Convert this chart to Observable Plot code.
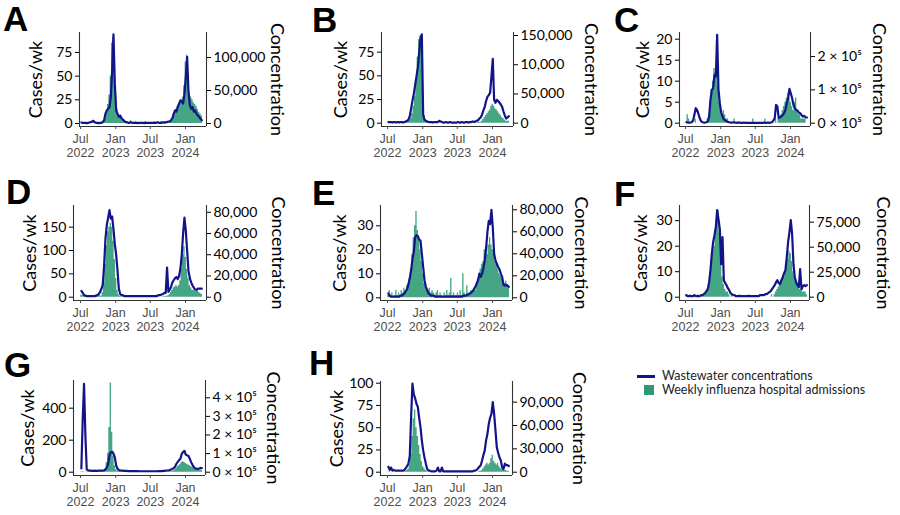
<!DOCTYPE html>
<html><head><meta charset="utf-8">
<script src="https://cdn.jsdelivr.net/npm/d3@7"></script>
<script src="https://cdn.jsdelivr.net/npm/@observablehq/plot@0.6"></script>
<style>
body{margin:0;background:#fff;}
#fig{position:relative;width:900px;height:515px;overflow:hidden;background:#fff;}
#fig svg{position:absolute;}
.letter{position:absolute;font-family:"Liberation Sans",Arial,sans-serif;font-weight:bold;font-size:35px;line-height:34px;color:#000;}
.lgtext{position:absolute;font-family:Lato,sans-serif;font-size:12.5px;line-height:14px;color:#222;white-space:nowrap;}
.sw{position:absolute;}
</style></head>
<body><div id="fig"></div>
<script>
// ---- data: weekly values starting week of 2022-07-02 (91 weeks) ----
const firstWeek = "2022-07-02";
const xTickDates = ["2022-07-01","2023-01-01","2023-07-01","2024-01-01"];
const xTickLabels = ["Jul\n2022","Jan\n2023","Jul\n2023","Jan\n2024"];

// Weekly influenza hospital admissions (cases/wk)
const casesA = [0,1,0,0,1,0,0,1,0,1,2,0,1,0,0,1,2, 3,8,12,20,30,50,85,91,60,30,15,8,6,5,4,3,2, 2,1,1,3,1,0,1,2,0,1,1,0,1,0,2,1,0,1,1,0,1,2,0,1,1,0,2,1,1,2,1,2, 2,3,5,8,12,15,18,20,22,25,28,40,65,72,45,30,28,25,22,20,18,15,12,10,8];
const casesB = [0,1,0,0,1,0,0,0,1,0,0,1,0,1,1,2,3, 5,10,18,28,45,70,88,92,80,35,8,3,2, 1,1,0,1,0,0,1,0,0,0,0,1,0,0,0,0,0,1,0,0,0,0,0,0,1,0,0,0,0,0,0,1,0,0,0,1,0,1,1,1, 2,4,6,8,10,12,14,18,20,18,15,14,12,10,8,6,5,3,2,2,2];
const casesC = [0,2,1,0,0,0,0,1,0,0,0,0,0,0,0,0,1, 2,5,8,10,13,12,21,9,5,3,2,3,2,1,1, 0,0,0,0,1,0,0,0,0,0,0,0,0,0,0,0,0,0,1,0,0,0,0,0,0,0,0,1,0,0,0,0,0,0,0,1,0,1, 1,2,3,4,5,6,7,6,5,4,3,5,6,3,2,2,1,1,1,1,0];
const casesD = [4,3,3,3,2,3,2,2,2,3,2,3,2,3,3, 2,10,30,70,110,140,150,158,150,120,80,40,15,5,2, 1,1,0,1,0,0,1,0,0,0,0,0,1,0,0,0,0,0,0,1,0,0,0,0,0,0,0,1,0,0,0,1,1,2,2,3, 5,10,15,20,22,25,22,25,35,60,90,108,85,60,40,25,20,15,15,12,12,15,10,8,6];
const casesE = [1,3,1,2,0,1,3,1,2,1,3,2,4,3,5,6,8,12,18,25,30,36,28,25,20,15,10,6,5,4,3, 4,2,3,2,1,2,3,1,2,1,0,2,1,3,1,2,8,1,2,1,1,2,1,3,1,10,2,1,5,2,1,3,2,4,3, 5,8,10,12,14,15,20,21,18,22,25,22,20,18,15,14,12,10,9,8,7,6,7,5,4];
const casesF = [1,0,0,1,0,0,1,0,0,1,0,0,1,1,1,2, 3,6,10,15,18,20,25,30,34,25,15,8,5,3,2,2,1, 0,1,0,0,0,0,0,1,0,0,0,0,0,0,1,0,0,0,0,0,0,0,1,0,0,0,0,0,0,0,0,1,0, 1,2,3,4,5,6,7,8,10,12,15,18,17,14,10,8,6,5,4,3,3,2,2,2,1];
const casesG = [2,3,2,1,2,1,1,2,1,1,2,1,2,2,3,3,5,10, 20,60,120,280,557,250,100,40,15,8,5,4,3, 2,2,1,2,1,1,1,2,1,1,1,1,1,1,1,1,1,1,1,1,1,1,1,1,1,1,1,1,1,1,1,1,1,2,2,3,4, 5,10,15,25,35,40,50,60,65,60,55,50,45,40,35,30,25,20,18,15,15,12,10];
const casesH = [0,1,0,0,0,0,0,0,0,0,0,0,1,1,2, 3,8,20,40,60,70,50,40,30,20,12,6,4,2,1, 0,0,1,0,0,0,0,0,0,0,0,0,0,0,0,0,0,0,0,0,0,0,0,0,0,0,0,0,0,0,0,0,0,0,0,0,0,0,1,1, 2,4,6,8,10,8,10,15,19,12,10,8,10,6,4,3,3,2,2,1,1];

// Wastewater concentrations (thousands)
const concA = [1.5,1,1,1,0.5,1,1.5,2,3,4,2,1,1,0.5,1,1,2, 5,15,20,22,25,40,80,135,60,20,15,10,12,8,6,4,2, 2,1,1,2,1,1,1,1,0.5,1,1,1,1,0.5,1,1,1,1,1,1,1,1,1,2,1,1,1,2,1,2,2,3, 3,5,8,15,20,18,25,30,35,33,30,45,70,101,50,28,22,25,18,20,15,12,10,7,5];
const concB = [2,2,2,1,2,2,1,2,1,2,2,1,2,3,4, 6,12,25,38,50,65,80,95,120,145,152,15,6,4,3,2, 2,2,1,2,2,2,2,4,3,2,1,1,2,1,1,2,1,1,1,1,1,2,1,1,2,1,1,2,2,1,2,2,3,2,3,4, 5,8,10,15,22,28,38,45,48,52,80,110,40,35,40,38,35,32,28,20,13,8,10,12];
const concC = [3,2,2,2,3,8, 25,45,40,28,15,6,3,2,2,3,5,20,70,100,105,145,140,265,100,60,33,20,12,8,6,4,3,2, 2,3,2,2,1,2,2,1,1,2,1,1,1,1,1,1,1,1,1,1,1,1,1,1,2,1,1,2,1,2,3, 8,15,55,50,15,18,20,25,30,40,60,75,103,90,75,55,45,40,38,32,30,25,20,22,18,17];
const concD = [6,4,2,1.5,1,1,1,1,1,1,1,1.5,2,3, 5,8,12,30,55,68,75,82,74,76,64,50,40,25,8,3,2, 2,1,1,1,1,1,1,1,1,1,1,1,1,1,1,1,1,1,1,1,1,1,1,1,1,1,1.5,2,2, 2.5,3,4,4,28,5,7,10,14,16,18,19,17,20,27,40,60,75,63,44,25,18,14,11,9,7,7,8,8,8,8];
const concE = [4,2,1,1,1,1,1,1,1,2,2,3, 4,6,8,12,18,25,35,42,55,57,56,53,52,40,28,16,10,7,4, 3,2,2,2,1,1,1,1,1,1,1,1,1,1,1,1,1,1,1,1,1,1,1,1,1,2,2,2,3, 3,4,5,6,8,10,13,16,22,19,22,27,34,45,60,70,67,80,64,40,34,31,28,26,22,19,12,11,12,11,10];
const concF = [2,1,1,1,1,1,2,1,1,1,1,2,2,3,4, 6,8,15,27,43,55,62,70,87,78,68,33,60,17,14,12,9,7,4,3, 2,2,1,1,1,1,1,1,1,1,1,1,1,1,1,1,1,1,1,1,2,2,2,2,3, 3,4,5,6,8,10,12,15,17,14,13,17,20,24,27,40,55,65,77,63,33,20,15,12,10,28,8,11,12,11,12];
const concG = [20,280,475,200,15, 10,8,8,7,7,8,7,7,8,8,9,9,10,15, 25,45,90,108,110,100,80,36,18,12,9, 8,8,7,7,7,6,6,6,6,6,6,6,6,5,5,5,5,5,5,5,5,5,5,5,5,5,5,5,6,6,6,7,7,8,9,10,12, 15,18,22,30,45,55,65,72,99,108,115,95,90,88,72,54,40,27,22,18,18,20,23,22];
const concH = [7,3,6,2,3,2,2,2,2,2,2,2,3,5, 8,11,21,71,114,100,95,88,84,70,58,41,28,19,11,4,2,2,1,1,1,1,2,6,1,1,6,1, 1,1,1,1,1,1,1,1,1,1,1,1,1,1,1,1,1,1,1,1,1,1,2,2,3,5, 7,9,15,22,28,41,49,62,70,75,90,75,54,32,25,19,15,6,4,11,9,9,8];

// Axis ticks (left: cases/wk, right: concentration)
const leftTicksA = [0,25,50,75], rightTicksA = [0,50000,100000], rightLabelsA = ["0","50,000","100,000"];
const leftTicksB = [0,25,50,75], rightTicksB = [0,50000,100000,150000], rightLabelsB = ["0","50,000","10,000","150,000"];
const leftTicksC = [0,5,10,15,20], rightTicksC = [0,100000,200000], rightLabelsC = ["0 × 10⁵","1 × 10⁵","2 × 10⁵"];
const leftTicksD = [0,50,100,150], rightTicksD = [0,20000,40000,60000,80000], rightLabelsD = ["0","20,000","40,000","60,000","80,000"];
const leftTicksE = [0,10,20,30], rightTicksE = [0,20000,40000,60000,80000], rightLabelsE = ["0","20,000","40,000","60,000","80,000"];
const leftTicksF = [0,10,20,30], rightTicksF = [0,25000,50000,75000], rightLabelsF = ["0","25,000","50,000","75,000"];
const leftTicksG = [0,200,400], rightTicksG = [0,100000,200000,300000,400000], rightLabelsG = ["0 × 10⁵","1 × 10⁵","2 × 10⁵","3 × 10⁵","4 × 10⁵"];
const leftTicksH = [0,25,50,75,100], rightTicksH = [0,30000,60000,90000], rightLabelsH = ["0","30,000","60,000","90,000"];

const panelLetters = ["A","B","C","D","E","F","G","H"];
const leftLabel = "Cases/wk", rightLabel = "Concentration";
const legendLabels = ["Wastewater concentrations","Weekly influenza hospital admissions"];

// ---- layout (pixel geometry per panel) ----
const geom = {
  A:{ox:0,oy:0,h:170,L:79,R:206,top:32,axis:126,zero:123,pxu:0.947,k:1435,jul:80,cx:-43.5,rx:70,lx:3,ly:2},
  B:{ox:300,oy:0,h:170,L:381,R:513,top:32,axis:126,zero:122.7,pxu:0.947,k:1620,jul:387,cx:-40.5,rx:77,lx:312,ly:3},
  C:{ox:600,oy:0,h:170,L:679,R:810,top:32,axis:126,zero:122.7,pxu:4.2,k:12600,jul:685,cx:-36.5,rx:68,lx:614,ly:3},
  D:{ox:0,oy:170,h:170,L:73,R:206,top:205,axis:300,zero:296.7,pxu:0.467,k:440,jul:80,cx:-43.5,rx:71,lx:6,ly:175},
  E:{ox:300,oy:170,h:170,L:380,R:512,top:205,axis:300,zero:297.3,pxu:2.4,k:2182,jul:387,cx:-40.5,rx:68,lx:312,ly:176},
  F:{ox:600,oy:170,h:170,L:679,R:809,top:205,axis:300,zero:296.7,pxu:2.55,k:2550,jul:685,cx:-38.5,rx:73,lx:614,ly:177},
  G:{ox:0,oy:340,h:175,L:73,R:205,top:380,axis:475,zero:471.7,pxu:0.16,k:860,jul:80,cx:-45.5,rx:67,lx:4,ly:348},
  H:{ox:300,oy:340,h:175,L:380,R:512,top:381,axis:475,zero:471.7,pxu:0.89,k:1144,jul:387,cx:-43.5,rx:66,lx:309,ly:346}
};

const series = {
  A:[casesA,concA,leftTicksA,rightTicksA,rightLabelsA],
  B:[casesB,concB,leftTicksB,rightTicksB,rightLabelsB],
  C:[casesC,concC,leftTicksC,rightTicksC,rightLabelsC],
  D:[casesD,concD,leftTicksD,rightTicksD,rightLabelsD],
  E:[casesE,concE,leftTicksE,rightTicksE,rightLabelsE],
  F:[casesF,concF,leftTicksF,rightTicksF,rightLabelsF],
  G:[casesG,concG,leftTicksG,rightTicksG,rightLabelsG],
  H:[casesH,concH,leftTicksH,rightTicksH,rightLabelsH]
};

const barColor = "#45a685", lineColor = "#14148a", axisColor = "#333";
const DAY = 864e5;
const start = new Date(firstWeek + "T00:00:00Z").getTime();
const jul1 = Date.UTC(2022,6,1);
const ppd = 105/549;
const xTicks = xTickDates.map(s => new Date(s + "T00:00:00Z"));
const xLab = new Map(xTicks.map((d,i)=>[+d, xTickLabels[i]]));

const fig = document.getElementById("fig");

for (const id of panelLetters) {
  const g = geom[id];
  const [cases, conc, lt, rt, rl] = series[id];
  const bars = cases.map((c,i)=>({date:new Date(start+i*7*DAY), cases:c}));
  bars.push({date:new Date(start+cases.length*7*DAY), cases:cases[cases.length-1]});
  const line = conc.map((v,i)=>({date:new Date(start+(i+0.5)*7*DAY), conc:v*1000}));
  const yMin = -(g.axis-g.zero)/g.pxu, yMax = (g.zero-g.top)/g.pxu;
  const xd0 = new Date(jul1 - (g.jul-g.L)/ppd*DAY), xd1 = new Date(jul1 + (g.R-g.jul)/ppd*DAY);
  const rTickVals = rt.map(v=>v/g.k);
  const rMap = new Map(rTickVals.map((v,i)=>[v, rl[i]]));
  const chart = Plot.plot({
    width:300, height:g.h,
    marginLeft:g.L-g.ox, marginRight:g.ox+300-g.R, marginTop:g.top-g.oy, marginBottom:g.oy+g.h-g.axis,
    x:{type:"utc", domain:[xd0,xd1], label:null},
    y:{domain:[yMin,yMax], label:null},
    style:{fontFamily:"Lato, sans-serif", fontSize:"14px", background:"transparent", overflow:"visible"},
    marks:[
      Plot.areaY(bars, {x:"date", y:"cases", curve:"step-after", fill:barColor}),
      Plot.lineY(line, {x:"date", y:d=>d.conc/g.k, stroke:lineColor, strokeWidth:2.2, strokeLinejoin:"round"}),
      Plot.ruleX([xd0, xd1], {stroke:axisColor, strokeWidth:1.1}),
      Plot.ruleY([yMin], {stroke:axisColor, strokeWidth:1.1}),
      Plot.axisY({anchor:"left", ticks:lt, tickSize:4, tickPadding:3, label:null, color:"#000", fontSize:14}),
      Plot.axisY({anchor:"right", ticks:rTickVals, tickFormat:d=>rMap.get(d) ?? "", tickSize:4, tickPadding:3, label:null, color:"#000", fontSize:14}),
      Plot.axisX({ticks:xTicks, tickFormat:d=>xLab.get(+d) ?? "", tickSize:3, tickPadding:3, label:null, color:"#4d4d4d", fontFamily:"Liberation Sans, Arial, sans-serif", fontSize:12.5, lineHeight:1.15}),
      Plot.text([leftLabel], {frameAnchor:"left", dx:g.cx, rotate:-90, fontSize:18, fill:"#000", textAnchor:"middle", lineAnchor:"middle"}),
      Plot.text([rightLabel], {frameAnchor:"right", dx:g.rx, rotate:90, fontSize:18, fill:"#000", textAnchor:"middle", lineAnchor:"middle"})
    ]
  });
  chart.style.left = g.ox + "px";
  chart.style.top = g.oy + "px";
  fig.appendChild(chart);
  const lt2 = document.createElement("div");
  lt2.className = "letter";
  lt2.textContent = id;
  lt2.style.left = g.lx + "px";
  lt2.style.top = g.ly + "px";
  fig.appendChild(lt2);
}

// legend
function addDiv(cls, css, text) {
  const d = document.createElement("div");
  d.className = cls;
  Object.assign(d.style, css);
  if (text) d.textContent = text;
  fig.appendChild(d);
}
addDiv("sw", {left:"637px", top:"375px", width:"18px", height:"2.5px", background:lineColor});
addDiv("sw", {left:"644px", top:"385px", width:"10px", height:"10px", background:"#2b9a78"});
addDiv("lgtext", {left:"662px", top:"369px"}, legendLabels[0]);
addDiv("lgtext", {left:"662px", top:"383px"}, legendLabels[1]);
</script>
</body></html>
